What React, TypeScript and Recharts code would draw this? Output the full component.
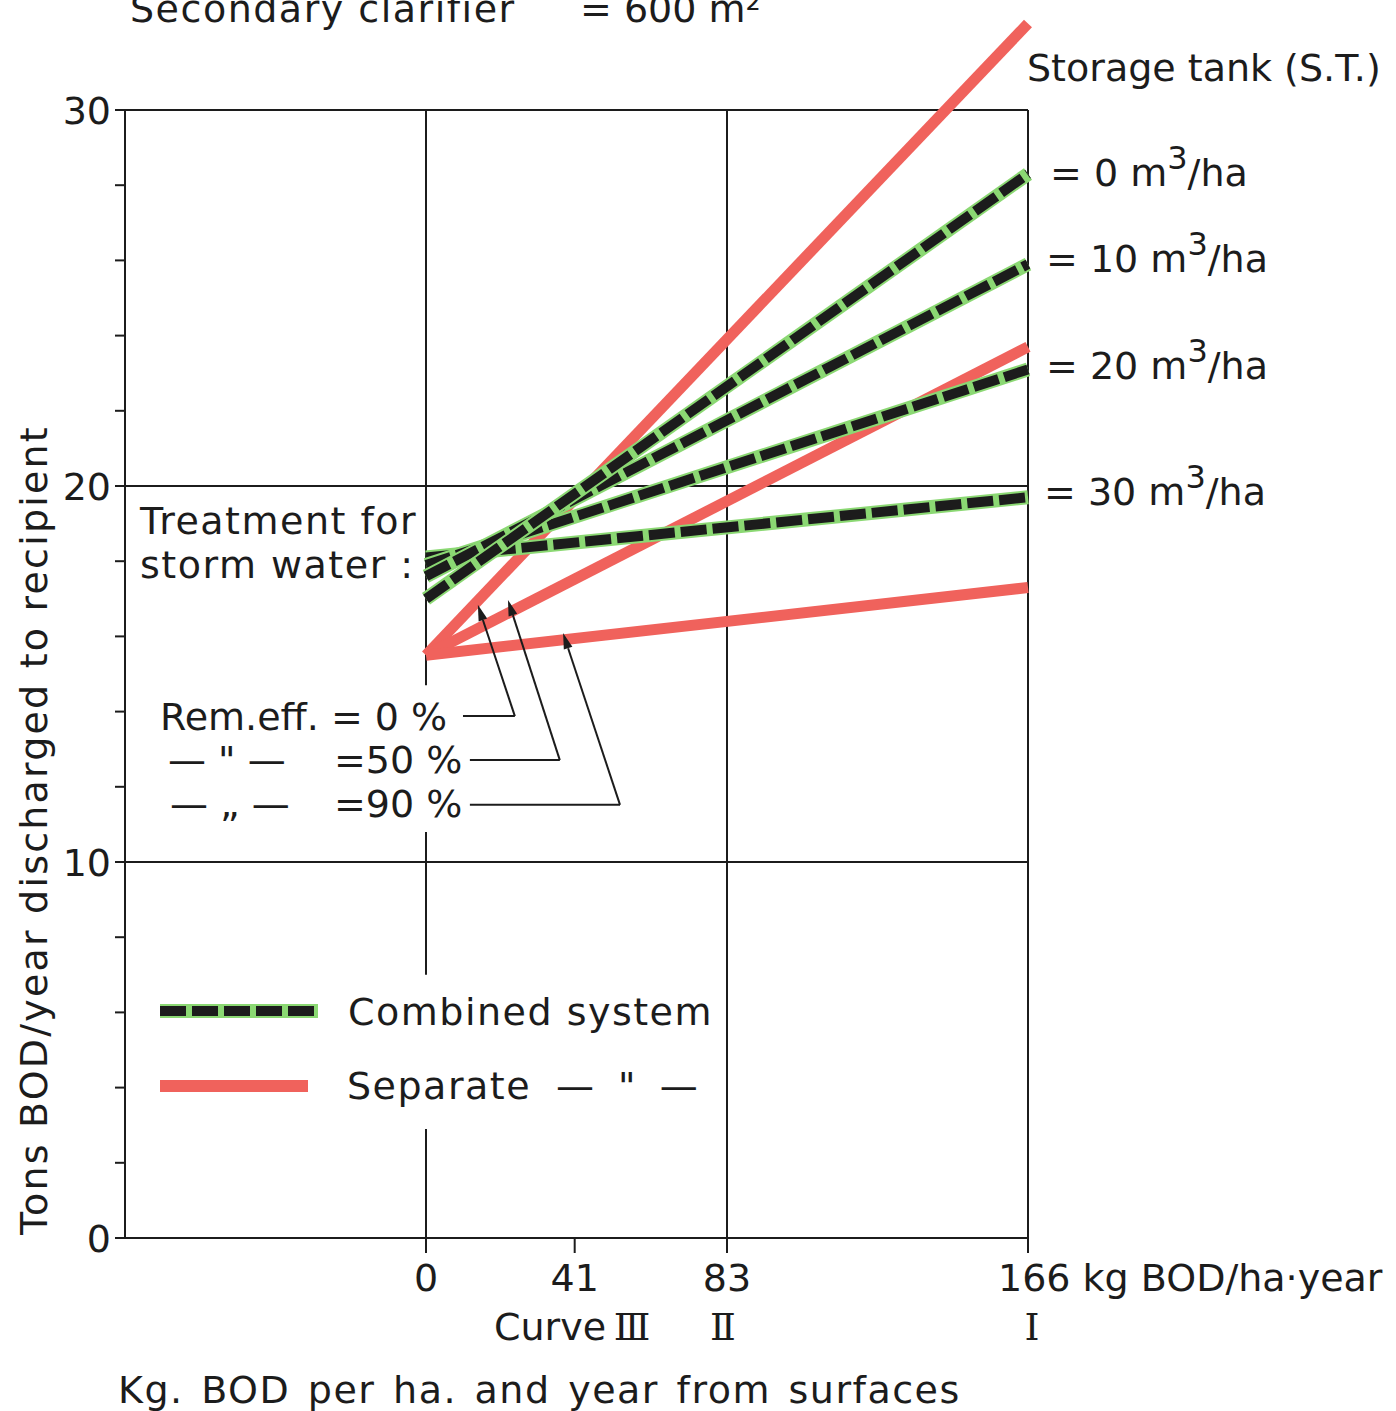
import { LineChart, Line, XAxis, YAxis, ReferenceLine, Legend } from 'recharts'

// x: kg BOD per ha and year from surfaces
const loadKg = [0, 166]

// Separate system, removal efficiency of storm water treatment
const sepRem0 = [15.5, 32.3]
const sepRem50 = [15.5, 23.7]
const sepRem90 = [15.5, 17.3]

// Combined system, storage tank volume (m3/ha)
const combST0 = [17.0, 28.3]
const combST10 = [17.6, 25.9]
const combST20 = [17.9, 23.1]
const combST30 = [18.1, 19.7]

const xTicks = [0, 41, 83, 166]
const yTicks = [0, 2, 4, 6, 8, 10, 12, 14, 16, 18, 20, 22, 24, 26, 28, 30]
const storageLabels = ['0', '10', '20', '30']

const data = loadKg.map((x, i) => ({
  x,
  sepRem0: sepRem0[i],
  sepRem50: sepRem50[i],
  sepRem90: sepRem90[i],
  combST0: combST0[i],
  combST10: combST10[i],
  combST20: combST20[i],
  combST30: combST30[i],
}))

const INK = '#1c1c1c'
const RED = '#f0625c'
const GREEN = '#8bd873'
const FONT = '"DejaVu Sans", sans-serif'
const SERIF = '"DejaVu Serif", serif'

const XTick = ({ x, y, payload }: any) => {
  const v = payload.value
  if (v === 166) {
    return (
      <text x={x - 30} y={y + 36} fontSize={38} fill={INK} fontFamily={FONT}>
        166 kg BOD/ha·year
      </text>
    )
  }
  return (
    <text x={x} y={y + 36} textAnchor="middle" fontSize={38} fill={INK} fontFamily={FONT}>
      {v}
    </text>
  )
}

const YTick = ({ x, y, payload }: any) => {
  if (payload.value % 10 !== 0) return null
  return (
    <text x={x - 2} y={y} dy="0.36em" textAnchor="end" fontSize={38} fill={INK} fontFamily={FONT}>
      {payload.value}
    </text>
  )
}

const ArrowShape = (props: any) => {
  const { x1, y1, x2, y2 } = props
  const a = Math.atan2(y2 - y1, x2 - x1)
  const len = 16
  const half = 4.5
  const bx = x2 - len * Math.cos(a)
  const by = y2 - len * Math.sin(a)
  const px = -Math.sin(a) * half
  const py = Math.cos(a) * half
  return (
    <g>
      <line x1={x1} y1={y1} x2={bx} y2={by} stroke={INK} strokeWidth={2} />
      <polygon points={`${x2},${y2} ${bx + px},${by + py} ${bx - px},${by - py}`} fill={INK} />
    </g>
  )
}

const LegendBox = () => (
  <svg width={600} height={140} style={{ fontFamily: FONT }}>
    <line x1={10} y1={36} x2={168} y2={36} stroke={GREEN} strokeWidth={14} />
    <line x1={10} y1={36} x2={168} y2={36} stroke={INK} strokeWidth={10} strokeDasharray="26 6" />
    <text x={198} y={50} fontSize={38} fill={INK} letterSpacing={1.5}>Combined system</text>
    <line x1={10} y1={111} x2={158} y2={111} stroke={RED} strokeWidth={12} />
    <text x={197} y={124} fontSize={38} fill={INK} letterSpacing={1.5}>Separate</text>
    <text x={406} y={124} fontSize={38} fill={INK} wordSpacing={12}>— " —</text>
  </svg>
)

const gridSeg = (x1: number, y1: number, x2: number, y2: number) => (
  <ReferenceLine
    key={`${x1}-${y1}-${x2}-${y2}`}
    segment={[{ x: x1, y: y1 }, { x: x2, y: y2 }]}
    stroke={INK}
    strokeWidth={2}
  />
)

const Combined = (key: string) => [
  <Line key={key + 'g'} dataKey={key} stroke={GREEN} strokeWidth={14} dot={false} isAnimationActive={false} />,
  <Line key={key + 'b'} dataKey={key} stroke={INK} strokeWidth={10} strokeDasharray="26 6" dot={false} isAnimationActive={false} />,
]

const sup = (n: string, lead: string, x: number, y: number) => (
  <text x={x} y={y} fontSize={38} fill={INK}>
    {lead}
    <tspan>{n}</tspan>
    <tspan> m</tspan>
    <tspan fontSize={32} dy={-17}>3</tspan>
    <tspan dy={17}>/ha</tspan>
  </text>
)

export default function App() {
  return (
    <div style={{ position: 'absolute', left: 0, top: 0, width: 1396, height: 1411, background: '#fff' }}>
      <LineChart width={1396} height={1411} data={data} margin={{ top: 16, right: 368, bottom: 143, left: 65 }}>
        <XAxis
          type="number"
          dataKey="x"
          domain={[-83, 166]}
          ticks={xTicks}
          interval={0}
          tick={<XTick />}
          tickSize={15}
          height={30}
          axisLine={{ stroke: INK, strokeWidth: 2 }}
          tickLine={{ stroke: INK, strokeWidth: 2 }}
        />
        <YAxis
          type="number"
          domain={[0, 32.5]}
          ticks={yTicks}
          interval={0}
          tick={<YTick />}
          tickSize={10}
          width={60}
          axisLine={false}
          tickLine={{ stroke: INK, strokeWidth: 2 }}
        />
        {gridSeg(-83, 30, 166, 30)}
        {gridSeg(-83, 20, 166, 20)}
        {gridSeg(-83, 10, 166, 10)}
        {gridSeg(-83, 0, -83, 30)}
        {gridSeg(166, 0, 166, 30)}
        {gridSeg(83, 0, 83, 30)}
        {gridSeg(0, 14.7, 0, 30)}
        {gridSeg(0, 7.0, 0, 10.8)}
        {gridSeg(0, 0, 0, 2.9)}

        <Line dataKey="sepRem0" stroke={RED} strokeWidth={11} dot={false} isAnimationActive={false} />
        <Line dataKey="sepRem50" stroke={RED} strokeWidth={11} dot={false} isAnimationActive={false} />
        <Line dataKey="sepRem90" stroke={RED} strokeWidth={11} dot={false} isAnimationActive={false} />
        {Combined('combST30')}
        {Combined('combST20')}
        {Combined('combST10')}
        {Combined('combST0')}

        {/* leader lines from the removal-efficiency labels */}
        {gridSeg(10.2, 13.88, 24.5, 13.88)}
        <ReferenceLine segment={[{ x: 24.5, y: 13.88 }, { x: 14.3, y: 16.84 }]} shape={<ArrowShape />} />
        {gridSeg(12.1, 12.71, 36.9, 12.71)}
        <ReferenceLine segment={[{ x: 36.9, y: 12.71 }, { x: 22.6, y: 16.97 }]} shape={<ArrowShape />} />
        {gridSeg(12.1, 11.52, 53.5, 11.52)}
        <ReferenceLine segment={[{ x: 53.5, y: 11.52 }, { x: 37.8, y: 16.09 }]} shape={<ArrowShape />} />

        <Legend
          layout="horizontal"
          verticalAlign="middle"
          align="center"
          content={<LegendBox />}
          wrapperStyle={{ position: 'absolute', left: 150, top: 975, width: 600, height: 140 }}
        />
      </LineChart>

      <svg
        width={1396}
        height={1411}
        style={{ position: 'absolute', left: 0, top: 0, pointerEvents: 'none', fontFamily: FONT }}
      >
        <text x={130} y={22} fontSize={38} fill={INK} letterSpacing={1.5}>Secondary clarifier</text>
        <text x={580} y={22} fontSize={38} fill={INK}>= 600 m²</text>

        <text x={1027} y={81} fontSize={38} fill={INK}>Storage tank (S.T.)</text>
        {sup(storageLabels[0], '=  ', 1050, 186)}
        {sup(storageLabels[1], '= ', 1046, 272)}
        {sup(storageLabels[2], '= ', 1046, 379)}
        {sup(storageLabels[3], '= ', 1044, 505)}

        <text x={140} y={534} fontSize={38} fill={INK} letterSpacing={1.5}>Treatment  for</text>
        <text x={140} y={578} fontSize={38} fill={INK} letterSpacing={1.5}>storm  water :</text>

        <text x={160} y={730} fontSize={38} fill={INK}>Rem.eff. = 0 %</text>
        <text x={168} y={773} fontSize={38} fill={INK}>— " —</text>
        <text x={334} y={773} fontSize={38} fill={INK}>=50 %</text>
        <text x={170} y={817} fontSize={38} fill={INK}>— „ —</text>
        <text x={334} y={817} fontSize={38} fill={INK}>=90 %</text>

        <text x={494} y={1340} fontSize={38} fill={INK}>Curve</text>
        <text x={632} y={1340} fontSize={38} fill={INK} fontFamily={SERIF} textAnchor="middle">Ⅲ</text>
        <text x={723} y={1340} fontSize={38} fill={INK} fontFamily={SERIF} textAnchor="middle">Ⅱ</text>
        <text x={1032} y={1340} fontSize={38} fill={INK} fontFamily={SERIF} textAnchor="middle">Ⅰ</text>

        <text x={118} y={1403} fontSize={38} fill={INK} letterSpacing={1.5} wordSpacing={4}>
          Kg. BOD per ha. and year from surfaces
        </text>

        <text
          x={47}
          y={830}
          fontSize={38}
          fill={INK}
          textAnchor="middle"
          letterSpacing={2.2}
          transform="rotate(-90 47 830)"
        >
          Tons BOD/year discharged to recipient
        </text>
      </svg>
    </div>
  )
}
